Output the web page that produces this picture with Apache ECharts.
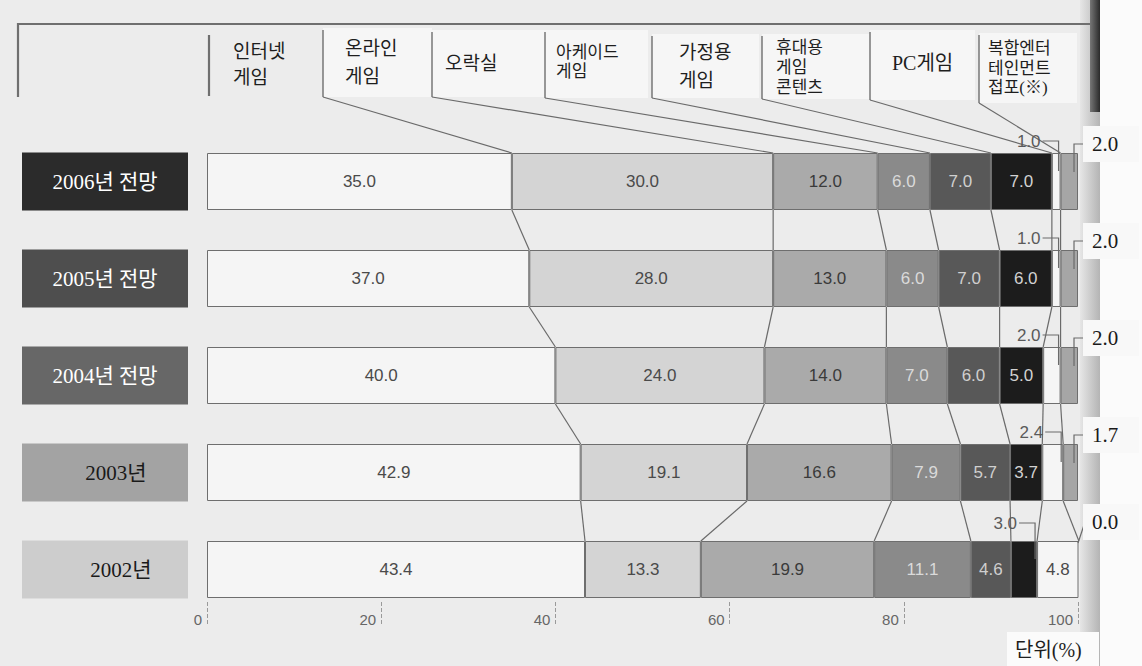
<!DOCTYPE html>
<html><head><meta charset="utf-8">
<script src="https://cdn.jsdelivr.net/npm/echarts@6/dist/echarts.min.js"></script>
<style>html,body{margin:0;padding:0;background:#ececec;}#c{width:1142px;height:666px;}</style>
</head><body><div id="c"></div>
<script>
// ---------- DATA ----------
const ROWS = ['2006년 전망', '2005년 전망', '2004년 전망', '2003년', '2002년'];
const SEGMENT_NAMES = ['인터넷게임', '온라인게임', '오락실', '아케이드게임', '가정용게임', '휴대용게임콘텐츠', 'PC게임', '복합엔터테인먼트접포(※)'];
const internetGame = [35.0, 37.0, 40.0, 42.9, 43.4];
const onlineGame   = [30.0, 28.0, 24.0, 19.1, 13.3];
const arcadeRoom   = [12.0, 13.0, 14.0, 16.6, 19.9];
const arcadeGame   = [6.0, 6.0, 7.0, 7.9, 11.1];
const homeGame     = [7.0, 7.0, 6.0, 5.7, 4.6];
const mobileGame   = [7.0, 6.0, 5.0, 3.7, 3.0];
const pcGame       = [1.0, 1.0, 2.0, 2.4, 4.8];
const complexEnt   = [2.0, 2.0, 2.0, 1.7, 0.0];
const HEADER_LINES = [['인터넷', '게임'], ['온라인', '게임'], ['오락실'], ['아케이드', '게임'], ['가정용', '게임'], ['휴대용', '게임', '콘텐츠'], ['PC게임'], ['복합엔터', '테인먼트', '접포(※)']];
const X_TICKS = [0, 20, 40, 60, 80, 100];
const UNIT_LABEL = '단위(%)';
// segment called out above the bar (index into series), per row
const TOP_CALLOUT = [6, 6, 6, 6, 5];

// ---------- STYLE / LAYOUT ----------
const SERIES_VALUES = [internetGame, onlineGame, arcadeRoom, arcadeGame, homeGame, mobileGame, pcGame, complexEnt];
const SEG_COLORS = ['#f5f5f5', '#d4d4d4', '#aaaaaa', '#8a8a8a', '#585858', '#1c1c1c', '#f5f5f5', '#a6a6a6'];
const LABEL_COLORS = ['#4a4a4a', '#4a4a4a', '#3a3a3a', '#dadada', '#cfcfcf', '#d2d2d2', '#4a4a4a', '#333'];
const BAR_W = 57;
const SERIF = '"Liberation Serif", "Noto Sans CJK KR", serif';
const SANS = '"Liberation Sans", Arial, sans-serif';
const LINE = '#6a6a6a';
// header boxes: left x, top, right, bottom, text x, line centers, font size
const HEADER_LAYOUT = [
  {x: 209, top: 33, right: 322, bottom: 96, tx: 233, ys: [51, 77], fs: 19, box: false},
  {x: 323, top: 28, right: 432, bottom: 97, tx: 345, ys: [48, 76], fs: 19, box: true},
  {x: 432, top: 30, right: 545, bottom: 97, tx: 445, ys: [63], fs: 19, box: true},
  {x: 545, top: 30, right: 648, bottom: 98, tx: 556, ys: [52, 71], fs: 17, box: true},
  {x: 652, top: 34, right: 759, bottom: 98, tx: 679, ys: [52, 80], fs: 19, box: true},
  {x: 762, top: 34, right: 870, bottom: 99, tx: 776, ys: [47, 67, 87], fs: 17, box: true},
  {x: 870, top: 30, right: 975, bottom: 100, tx: 892, ys: [63], fs: 20, box: true},
  {x: 979, top: 33, right: 1077, bottom: 103, tx: 988, ys: [48, 68, 87], fs: 17, box: true}
];

function cum(row, k) {
  let s = 0;
  for (let j = 0; j < k; j++) s += SERIES_VALUES[j][row];
  return s;
}

const chart = echarts.init(document.getElementById('c'), null, {renderer: 'svg'});

const barSeries = SERIES_VALUES.map((vals, k) => ({
  name: SEGMENT_NAMES[k],
  type: 'bar',
  stack: 'total',
  barWidth: BAR_W,
  itemStyle: {color: SEG_COLORS[k], borderColor: '#6e6e6e', borderWidth: 1},
  label: {
    show: true, position: 'inside', color: LABEL_COLORS[k], fontSize: 17, fontFamily: SANS,
    formatter: p => p.value.toFixed(1)
  },
  data: vals.map((v, r) => {
    const hide = (k === 7) || (TOP_CALLOUT[r] === k);
    return hide ? {value: v, label: {show: false}} : v;
  }),
  z: 2
}));

function renderOverlay(params, api) {
  const i = api.value(1);
  const half = BAR_W / 2;
  const children = [];
  const ls = {stroke: LINE, lineWidth: 1.2, fill: 'none'};
  const yc = api.coord([0, i])[1];
  const yTop = yc - half, yBot = yc + half;
  // connectors to next row
  if (i < ROWS.length - 1) {
    const ycN = api.coord([0, i + 1])[1];
    for (let k = 1; k < SERIES_VALUES.length; k++) {
      const x1 = api.coord([cum(i, k), i])[0];
      const x2 = api.coord([cum(i + 1, k), i + 1])[0];
      children.push({type: 'line', shape: {x1: x1, y1: yBot, x2: x2, y2: ycN - half}, style: ls});
    }
  }
  // header leaders
  if (i === 0) {
    HEADER_LAYOUT.forEach((b, k) => {
      if (k === 0) return;
      const x2 = api.coord([cum(0, k), 0])[0];
      children.push({type: 'line', shape: {x1: b.x, y1: b.bottom, x2: x2, y2: yTop}, style: ls});
    });
  }
  // top callout
  const ks = TOP_CALLOUT[i];
  const xl = api.coord([cum(i, ks + 1), i])[0] - 2;
  const ly = (i === ROWS.length - 1) ? yTop - 18 : yTop - 12;
  children.push({type: 'polyline', shape: {points: [[xl - 16, ly], [xl, ly], [xl, yTop + 18]]}, style: ls});
  children.push({type: 'text', style: {
    text: SERIES_VALUES[ks][i].toFixed(1), x: xl - 18, y: ly,
    align: 'right', textAlign: 'right', verticalAlign: 'middle', textVerticalAlign: 'middle',
    fill: '#5a5a5a', font: '17px ' + SANS
  }});
  // right callout (last segment)
  const v = complexEnt[i];
  const x100 = api.coord([100, i])[0];
  const boxL = x100 + 5;
  const ry = (i === ROWS.length - 1) ? yTop - 19 : yTop - 9;
  if (v > 0) {
    const xr = x100 - 4;
    children.push({type: 'polyline', shape: {points: [[boxL + 2, ry], [xr, ry], [xr, yTop + 19]]}, style: ls});
  } else {
    children.push({type: 'line', shape: {x1: boxL + 2, y1: ry, x2: x100, y2: yTop + 2}, style: ls});
  }
  children.push({type: 'rect', shape: {x: boxL, y: ry - 18, width: 56, height: 36}, style: {fill: '#f8f8f8'}});
  children.push({type: 'text', style: {
    text: v.toFixed(1), x: boxL + 9, y: ry,
    align: 'left', textAlign: 'left', verticalAlign: 'middle', textVerticalAlign: 'middle',
    fill: '#1a1a1a', font: '21px ' + SERIF
  }});
  return {type: 'group', children: children};
}

// graphic elements: background, header frame, header boxes & texts, unit label
const graphics = [];
graphics.push({type: 'rect', z: -20, shape: {x: 1098, y: 0, width: 44, height: 666}, style: {fill: '#fbfbfb'}});
graphics.push({type: 'rect', z: -19, shape: {x: 1080, y: 0, width: 20, height: 666},
  style: {fill: new echarts.graphic.LinearGradient(0, 0, 1, 0, [{offset: 0, color: '#e6e6e6'}, {offset: 1, color: '#b4b4b4'}])}});
graphics.push({type: 'rect', z: -18, shape: {x: 1090, y: 0, width: 10, height: 112},
  style: {fill: new echarts.graphic.LinearGradient(0, 0, 1, 0, [{offset: 0, color: '#777'}, {offset: 1, color: '#2a2a2a'}])}});
graphics.push({type: 'polyline', z: 1, shape: {points: [[18, 97], [18, 24], [1090, 24]]}, style: {stroke: '#6f6f6f', lineWidth: 2.2, fill: 'none'}});
HEADER_LAYOUT.forEach((b, k) => {
  if (b.box) {
    graphics.push({type: 'rect', z: 1, shape: {x: b.x, y: b.top, width: b.right - b.x, height: b.bottom - b.top}, style: {fill: '#f6f6f6'}});
  }
  graphics.push({type: 'line', z: 2, shape: {x1: b.x, y1: b.top + 2, x2: b.x, y2: b.bottom}, style: {stroke: '#6f6f6f', lineWidth: b.box ? 1.4 : 2.2}});
  HEADER_LINES[k].forEach((t, li) => {
    graphics.push({type: 'text', z: 3, x: b.tx, y: b.ys[li], style: {
      text: t, fill: '#1e1e1e', font: b.fs + 'px ' + SERIF,
      verticalAlign: 'middle', textVerticalAlign: 'middle'
    }});
  });
});
graphics.push({type: 'rect', z: 3, shape: {x: 1007, y: 632, width: 92, height: 34}, style: {fill: '#fbfbfb'}});
graphics.push({type: 'text', z: 4, x: 1015, y: 650, style: {
  text: UNIT_LABEL, fill: '#1e1e1e', font: '20px ' + SERIF, verticalAlign: 'middle', textVerticalAlign: 'middle'
}});

const YEAR_STYLES = [
  {bg: '#2b2b2b', fg: '#ffffff', pad: 0},
  {bg: '#4e4e4e', fg: '#ffffff', pad: 0},
  {bg: '#676767', fg: '#ffffff', pad: 0},
  {bg: '#a3a3a3', fg: '#1a1a1a', pad: 22},
  {bg: '#cdcdcd', fg: '#1a1a1a', pad: 32}
];
const rich = {};
YEAR_STYLES.forEach((s, r) => {
  rich['r' + r] = {
    backgroundColor: s.bg, color: s.fg, width: 166 - s.pad, height: 58, align: 'center',
    padding: [0, 0, 0, s.pad], fontSize: 21, fontFamily: SERIF, lineHeight: 58
  };
});

chart.setOption({
  animation: false,
  backgroundColor: '#ececec',
  grid: {left: 207, right: 64, top: 133, bottom: 48, containLabel: false},
  xAxis: {
    type: 'value', min: X_TICKS[0], max: X_TICKS[X_TICKS.length - 1], interval: 20,
    offset: -16,
    axisLine: {show: false},
    axisTick: {show: true, length: 23, lineStyle: {color: '#9a9a9a', type: 'dashed', width: 1}},
    splitLine: {show: false},
    axisLabel: {color: '#666', fontSize: 15, fontFamily: SANS, align: 'right', margin: 10, padding: [0, 5, 0, 0]}
  },
  yAxis: {
    type: 'category', data: ROWS, inverse: true,
    axisLine: {show: false}, axisTick: {show: false},
    axisLabel: {margin: 19, formatter: (v, idx) => '{r' + idx + '|' + v + '}', rich: rich}
  },
  graphic: graphics,
  series: barSeries.concat([{
    type: 'custom', coordinateSystem: 'cartesian2d', silent: true, clip: false, z: 5,
    renderItem: renderOverlay,
    encode: {x: 0, y: 1},
    data: ROWS.map((r, i) => [0, i])
  }])
});
</script></body></html>
